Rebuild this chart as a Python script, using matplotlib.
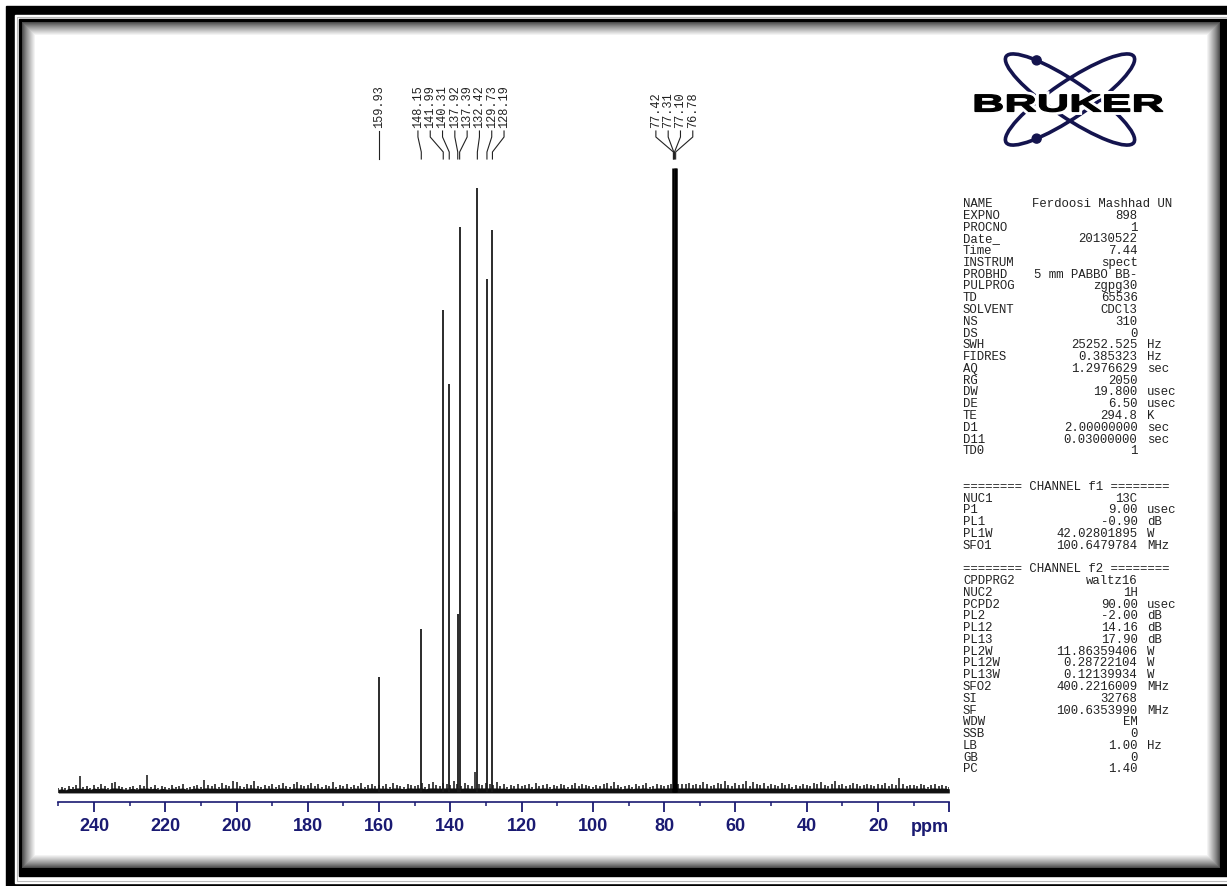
import numpy as np
import matplotlib
matplotlib.use("Agg")
import matplotlib.pyplot as plt
from matplotlib.patches import Rectangle, Ellipse, Circle, PathPatch
from matplotlib.textpath import TextPath
from matplotlib.font_manager import FontProperties
from matplotlib.transforms import Affine2D, blended_transform_factory

# 13C NMR spectrum (CDCl3), intensities relative to solvent = 100
peak_ppm    = [159.93, 148.15, 141.99, 140.31, 137.92, 137.39, 132.42, 129.73, 128.19]
peak_height = [18.4, 26.1, 77.2, 65.4, 28.5, 90.5, 96.8, 82.2, 90.1]

solvent_ppm    = [77.42, 77.31, 77.10, 76.78]
solvent_height = [100.0, 45.0, 100.0, 100.0]

label_groups = [[159.93],
                [148.15, 141.99, 140.31, 137.92, 137.39, 132.42, 129.73, 128.19],
                [77.42, 77.31, 77.10, 76.78]]

# baseline noise, one value per ppm from 250 down to 0 (1/7 of a unit)
noise_ppm = list(range(250, -1, -1))
noise_level = [5, 6, 4, 7, 6, 8, 18, 6, 7, 5,
               8, 6, 9, 7, 5, 10, 11, 7, 6, 5,
               6, 7, 5, 8, 7, 19, 6, 8, 5, 7,
               6, 5, 8, 6, 7, 9, 5, 6, 7, 8,
               6, 14, 8, 7, 9, 6, 10, 8, 7, 12,
               11, 7, 6, 9, 8, 12, 7, 6, 8, 7,
               9, 6, 8, 10, 7, 6, 9, 11, 8, 7,
               8, 10, 7, 9, 6, 8, 7, 11, 6, 8,
               7, 9, 6, 8, 7, 10, 6, 8, 9, 7,
               8, 7, 9, 6, 10, 8, 7, 6, 9, 8,
               7, 8, 10, 6, 9, 11, 8, 7, 10, 9,
               8, 12, 9, 7, 10, 8, 7, 22, 9, 8,
               10, 9, 8, 11, 7, 9, 6, 8, 7, 9,
               7, 8, 9, 6, 10, 7, 8, 9, 6, 8,
               7, 9, 8, 6, 8, 10, 7, 9, 8, 7,
               6, 8, 7, 9, 10, 7, 11, 8, 6, 7,
               8, 6, 9, 7, 8, 10, 6, 7, 9, 8,
               7, 8, 9, 9, 9, 9, 9, 10, 8, 9,
               8, 11, 9, 7, 8, 10, 9, 12, 8, 7,
               10, 8, 9, 12, 7, 11, 9, 8, 10, 7,
               9, 8, 7, 10, 8, 9, 6, 8, 7, 9,
               8, 7, 10, 9, 11, 8, 7, 9, 12, 8,
               9, 7, 8, 10, 9, 7, 8, 9, 8, 7,
               9, 8, 10, 7, 9, 8, 16, 9, 7, 8,
               8, 7, 9, 8, 6, 8, 9, 7, 8, 7,
               6]

major_ticks = list(range(0, 241, 20))
minor_ticks = list(range(10, 251, 20))
tick_labels = [str(t) for t in major_ticks[1:]]

# acquisition / processing parameters
acq_names  = ["NAME", "EXPNO", "PROCNO", "Date_", "Time", "INSTRUM", "PROBHD", "PULPROG",
              "TD", "SOLVENT", "NS", "DS", "SWH", "FIDRES", "AQ", "RG", "DW", "DE", "TE",
              "D1", "D11", "TD0"]
acq_values = ["Ferdoosi Mashhad UN", "898", "1", "20130522", "7.44", "spect", "5 mm PABBO BB-",
              "zgpg30", "65536", "CDCl3", "310", "0", "25252.525", "0.385323", "1.2976629",
              "2050", "19.800", "6.50", "294.8", "2.00000000", "0.03000000", "1"]
acq_units  = ["", "", "", "", "", "", "", "", "", "", "", "", "Hz", "Hz", "sec", "",
              "usec", "usec", "K", "sec", "sec", ""]

f1_names  = ["NUC1", "P1", "PL1", "PL1W", "SFO1"]
f1_values = ["13C", "9.00", "-0.90", "42.02801895", "100.6479784"]
f1_units  = ["", "usec", "dB", "W", "MHz"]

f2_names  = ["CPDPRG2", "NUC2", "PCPD2", "PL2", "PL12", "PL13", "PL2W", "PL12W", "PL13W",
             "SFO2", "SI", "SF", "WDW", "SSB", "LB", "GB", "PC"]
f2_values = ["waltz16", "1H", "90.00", "-2.00", "14.16", "17.90", "11.86359406", "0.28722104",
             "0.12139934", "400.2216009", "32768", "100.6353990", "EM", "0", "1.00", "0", "1.40"]
f2_units  = ["", "", "usec", "dB", "dB", "dB", "W", "W", "W", "MHz", "", "MHz", "", "", "Hz", "", ""]

W, H = 1227, 886
navy = "#1a1a72"
fig = plt.figure(figsize=(W / 100, H / 100), dpi=100)

# ---------- background layer in pixel coordinates ----------
bg = fig.add_axes([0, 0, 1, 1])
bg.set_xlim(0, W)
bg.set_ylim(H, 0)
bg.set_axis_off()

bg.add_patch(Rectangle((6, 6), W + 20, H + 20, color="black"))
bg.add_patch(Rectangle((15, 15), W + 20, 868, color="white"))
bg.add_patch(Rectangle((17, 17), W + 20, 864, fill=False, ec="#bbbbbb", lw=0.8))
bg.add_patch(Rectangle((19, 19), W + 20, 857, color="black"))
steps = 14
for i in range(steps):
    g = 0.2 + 0.8 * ((i + 1) / steps) ** 0.8
    bg.add_patch(Rectangle((22 + i, 22 + i), 1198 - 2 * i, 846 - 2 * i,
                           color=(g, g, g), lw=0))

# Bruker logo
cx, cy, a, b = 1070, 99.5, 77, 18
for ang in (34, -34):
    bg.add_patch(Ellipse((cx, cy), 2 * a, 2 * b, angle=ang, fill=False, ec="#14144e", lw=2.6))
for ang, t in ((34, 230), (-34, 130)):
    th, tt = np.radians(ang), np.radians(t)
    px = cx + a * np.cos(tt) * np.cos(th) - b * np.sin(tt) * np.sin(th)
    py = cy + a * np.cos(tt) * np.sin(th) + b * np.sin(tt) * np.cos(th)
    bg.add_patch(Circle((px, py), 4.5, color="#14144e"))

tp = TextPath((0, 0), "BRUKER", size=1, prop=FontProperties(family="Liberation Sans", weight="bold"))
ext = tp.get_extents()
sx = 188 / ext.width
sy = 17 / ext.height
tr = Affine2D().translate(-ext.x0, -ext.y0).scale(sx, -sy).translate(975, 111.7)
logo = tr.transform_path(tp)
bg.add_patch(PathPatch(logo, fc="white", ec="white", lw=5))
bg.add_patch(PathPatch(logo, fc="black", ec="black", lw=0.9))

# parameter listing
mono = dict(family="Liberation Mono", fontsize=8.9, color="#222222", va="center")
x_name, x_val, x_unit = 963, 1137.5, 1147
line_h = 11.78
y0 = 204

def put_rows(names, values, units, start):
    for k, (n, v, u) in enumerate(zip(names, values, units)):
        y = y0 + (start + k) * line_h
        bg.text(x_name, y, n, ha="left", **mono)
        if len(v) > 16:
            bg.text(1032, y, v, ha="left", **mono)
        else:
            bg.text(x_val, y, v, ha="right", **mono)
        if u:
            bg.text(x_unit, y, u, ha="left", **mono)

put_rows(acq_names, acq_values, acq_units, 0)
bg.text(x_name, y0 + 24 * line_h, "======== CHANNEL f1 ========", ha="left", **mono)
put_rows(f1_names, f1_values, f1_units, 25)
bg.text(x_name, y0 + 31 * line_h, "======== CHANNEL f2 ========", ha="left", **mono)
put_rows(f2_names, f2_values, f2_units, 32)

# ---------- spectrum ----------
ax_left, ax_right = 58.3, 949.3
ax_bot, ax_top = 801.7, 160
ax = fig.add_axes([ax_left / W, (H - ax_bot) / H, (ax_right - ax_left) / W, (ax_bot - ax_top) / H])
ax.patch.set_alpha(0)
px_per_unit = 6.24
ax.set_xlim(250, 0)
ax.set_ylim(-(ax_bot - 792) / px_per_unit, (792 - ax_top) / px_per_unit)

noise = np.array(noise_level) / 7.0
ax.fill_between(noise_ppm, -0.15, np.minimum(noise * 0.6, 0.65), color="#111111", lw=0)
ax.vlines(noise_ppm, -0.15, noise, color="#111111", lw=1.1)
ax.vlines(peak_ppm, 0, peak_height, color="#1a1a1a", lw=1.3)
ax.vlines(solvent_ppm, 0, solvent_height, color="black", lw=1.8)

for s in ("left", "top", "right"):
    ax.spines[s].set_visible(False)
ax.spines["bottom"].set_color(navy)
ax.spines["bottom"].set_linewidth(1.2)
ax.set_yticks([])
ax.set_xticks(major_ticks)
ax.set_xticklabels([""] + tick_labels)
ax.set_xticks(minor_ticks, minor=True)
ax.tick_params(axis="x", which="major", direction="out", length=7.5, width=1.3,
               colors=navy, pad=4.5)
ax.tick_params(axis="x", which="minor", direction="out", length=2.8, width=1.1, colors=navy)
for lab in ax.get_xticklabels():
    lab.set_fontfamily("Liberation Sans")
    lab.set_fontweight("bold")
    lab.set_fontsize(13)

btr = blended_transform_factory(ax.transData, ax.transAxes)
axh = ax_bot - ax_top

def fy(ypx):
    return (ax_bot - ypx) / axh

ax.text(0, fy(818.5), "ppm", transform=btr, ha="right", va="top",
        fontfamily="Liberation Sans", fontweight="bold", fontsize=13, color=navy)

# peak labels with leader lines
sp = 12.3 * 250 / (ax_right - ax_left)
for grp in label_groups:
    c = np.mean(grp)
    n = len(grp)
    for i, p in enumerate(grp):
        lx = c + (n - 1) / 2 * sp - i * sp
        ax.text(lx, fy(128), f"{p:.2f}", transform=btr, rotation=90, ha="center", va="bottom",
                fontfamily="Liberation Mono", fontsize=8.6, color="#222222", clip_on=False)
        ax.plot([lx, lx, p, p], [fy(131), fy(137), fy(152), fy(159)], transform=btr,
                color="#222222", lw=0.8, clip_on=False)

fig.savefig("out.png", dpi=100)
